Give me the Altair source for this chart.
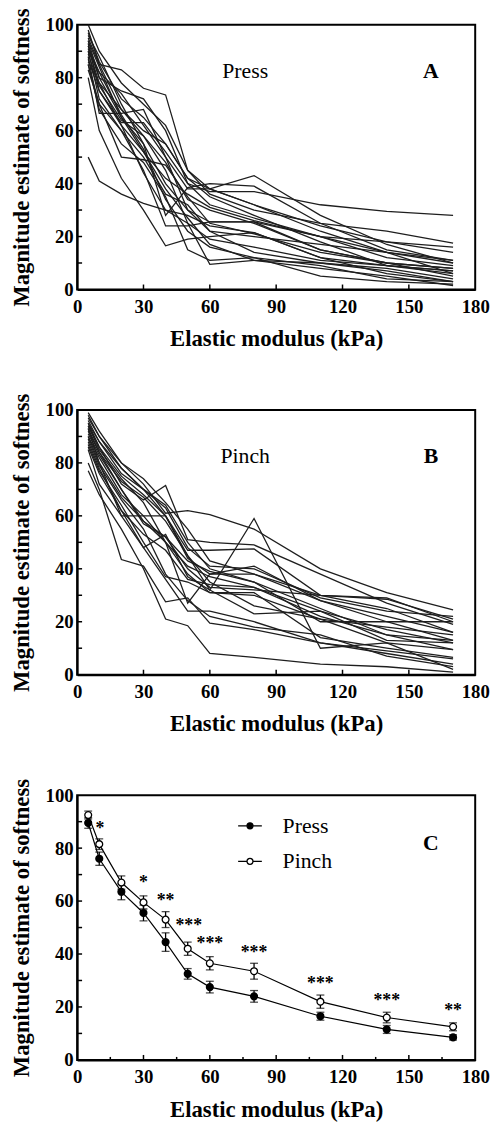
import altair as alt
import pandas as pd

# ---------------- data ----------------
moduli = [5, 10, 20, 30, 40, 50, 60, 80, 110, 140, 170]

press_subjects = [
    [95, 85, 83, 76, 73.5, 45, 38, 32, 22, 14, 10],
    [50, 41, 36, 32.5, 30, 28, 24, 21.5, 12, 9, 7],
    [100, 90, 78, 70, 62, 45, 36, 30, 25, 22, 17.5],
    [92, 80, 75, 72, 60, 40, 37, 37, 32, 29.5, 28],
    [90, 82, 74, 62, 50, 38, 38, 43, 28, 17, 10],
    [88, 66.5, 66.5, 68, 50, 30, 25.5, 25.5, 20, 12, 9],
    [85, 70, 50, 49, 47, 35, 25, 21, 14, 10, 8],
    [80, 60, 42, 30, 16.5, 19, 20, 21.5, 12, 6, 3],
    [96, 88, 70, 55, 28, 38.5, 40, 39, 25, 15, 11],
    [93, 75, 63, 63, 52, 40, 32, 27, 20, 14, 6],
    [90, 72, 60, 45, 24, 24, 25.5, 25.5, 15, 10, 5],
    [98, 85, 68, 58, 45, 25, 9.5, 11, 10, 8, 4],
    [85, 68, 55, 48, 35, 15, 11, 12, 5, 3, 2],
    [94, 80, 65, 55, 40, 30, 22, 14, 10, 7, 3],
    [87, 75, 62, 52, 38, 27, 17, 11, 8, 5, 1.5],
    [91, 78, 68, 60, 55, 42, 35, 28, 18, 9, 6],
    [89, 77, 64, 58, 48, 34, 30, 25, 15, 10, 8],
    [97, 86, 72, 65, 55, 42, 38, 32, 24, 18, 14],
    [83, 70, 60, 50, 36, 32, 22, 20, 17, 14, 11],
    [92, 82, 66, 53, 34, 22, 16, 12, 9, 4, 3],
    [86, 78, 62, 44, 30, 25, 19, 16, 11, 9, 7],
    [94, 84, 65, 52, 42, 36, 31, 26, 20, 18, 16],
]

pinch_subjects = [
    [98, 90, 80, 72, 61, 62, 60.5, 55, 40, 31, 24.5],
    [95, 88, 78, 70, 60, 45, 32, 59, 10, 12, 9.5],
    [77, 68, 55, 40, 21, 18.5, 8, 6.5, 4, 3, 1],
    [80, 70, 43.5, 41, 27.5, 29, 19.5, 17, 12, 8, 4],
    [90, 80, 60, 60, 60, 47, 47, 47.5, 30, 28.5, 21],
    [95, 86, 72, 66, 71.5, 51, 50, 49, 38, 27, 19],
    [93, 84, 70, 57, 52, 40, 33, 32, 30, 29, 20],
    [88, 78, 62, 48, 53, 37, 32, 23, 24, 13, 12],
    [94, 85, 74, 65, 50, 27, 38, 41, 28, 22, 16],
    [91, 83, 70, 58, 52, 43, 39, 35, 20, 20, 20],
    [97, 90, 78, 70, 64, 50, 40, 35, 25, 15, 13],
    [85, 72, 60, 48, 36, 24, 24, 20, 12, 9, 6],
    [89, 79, 66, 55, 38, 28, 22, 18, 15, 7, 3],
    [92, 84, 73, 67, 58, 45, 35, 26, 21, 18, 15],
    [96, 88, 76, 70, 63, 48, 41, 40, 29, 24, 22],
    [86, 76, 62, 53, 47, 36, 34, 33, 24, 17, 12],
    [90, 82, 68, 60, 50, 38, 31, 30, 21, 12, 2],
    [94, 86, 75, 68, 60, 44, 38, 38, 28, 20, 13],
    [99, 92, 80, 74, 65, 55, 43, 38, 30, 25, 16],
    [87, 77, 64, 50, 37, 35, 31, 31, 14, 10, 6.5],
    [93, 80, 67, 58, 50, 41, 37, 33, 22, 15, 9.5],
]

press_mean = [89.5, 76, 63.5, 55.5, 44.5, 32.5, 27.5, 24, 16.5, 11.5, 8.5]
press_sem = [2, 2.5, 3, 3, 3.5, 2, 2.2, 2.2, 1.5, 1.5, 1]
pinch_mean = [92.5, 81.5, 67, 59.5, 53, 42, 36.5, 33.5, 22, 16, 12.5]
pinch_sem = [1.5, 2, 2.5, 2.5, 3, 2.5, 2.5, 3, 2.5, 2, 1.5]

star_x = [10.3, 30, 40, 50.5, 60, 80, 110, 140, 170]
star_y = [88.5, 68, 61.2, 51.7, 44.7, 41.4, 29.9, 23.2, 19.7]
star_text = ["*", "*", "**", "***", "***", "***", "***", "***", "**"]

x_major = [0, 30, 60, 90, 120, 150, 180]
x_minor = [15, 45, 75, 105, 135, 165]
y_ticks = [0, 10, 20, 30, 40, 50, 60, 70, 80, 90, 100]
y_labels = [0, 20, 40, 60, 80, 100]

panel_names = ["Press", "Pinch"]
panel_letters = ["A", "B", "C"]

# ---------------- style ----------------
W, H = 403, 268
SERIF = "Liberation Serif"
XT = "Elastic modulus (kPa)"
YT = "Magnitude estimate of softness"

xscale = alt.Scale(domain=[0, 180], nice=False)
yscale = alt.Scale(domain=[0, 100], nice=False)
xaxis = alt.Axis(values=x_major, title=XT)
yaxis = alt.Axis(values=y_labels, title=YT)


def X(field="x"):
    return alt.X(f"{field}:Q", scale=xscale, axis=xaxis)


def Y(field="y"):
    return alt.Y(f"{field}:Q", scale=yscale, axis=yaxis)


def tick_layers(minor=False):
    xt = pd.DataFrame({"x": x_major[1:-1]})
    yt = pd.DataFrame({"y": y_ticks[1:-1]})
    layers = [
        alt.Chart(xt).mark_rule(color="black", strokeWidth=1.5).encode(
            x=X(), y=alt.value(H), y2=alt.value(H - 5)),
        alt.Chart(yt).mark_rule(color="black", strokeWidth=1.5).encode(
            y=Y(), x=alt.value(0), x2=alt.value(5)),
    ]
    if minor:
        xm = pd.DataFrame({"x": x_minor})
        layers.append(alt.Chart(xm).mark_rule(color="black", strokeWidth=1.5).encode(
            x=X(), y=alt.value(H), y2=alt.value(H - 3)))
    return layers


def annotations(name, letter, ax, ay, lx, ly):
    layers = []
    if name:
        layers.append(alt.Chart(pd.DataFrame({"x": [ax], "y": [ay], "t": [name]})).mark_text(
            font=SERIF, fontSize=22, color="black", baseline="middle", align="center").encode(
            x=X(), y=Y(), text="t:N"))
    layers.append(alt.Chart(pd.DataFrame({"x": [lx], "y": [ly], "t": [letter]})).mark_text(
        font=SERIF, fontSize=22, fontWeight="bold", color="black", baseline="middle",
        align="center").encode(x=X(), y=Y(), text="t:N"))
    return layers


def subject_df(subjects):
    rows = []
    for i, s in enumerate(subjects):
        for xv, yv in zip(moduli, s):
            rows.append({"x": xv, "y": yv, "s": i})
    return pd.DataFrame(rows)


def subject_panel(subjects, name, letter):
    lines = alt.Chart(subject_df(subjects)).mark_line(
        color="#1e1e1e", strokeWidth=1.3).encode(x=X(), y=Y(), detail="s:N")
    return alt.layer(lines, *tick_layers(), *annotations(name, letter, 76, 82.5, 160, 82.5)
                     ).properties(width=W, height=H)


panelA = subject_panel(press_subjects, panel_names[0], panel_letters[0])
panelB = subject_panel(pinch_subjects, panel_names[1], panel_letters[1])

# panel C
rows = []
for name, m, e in [("Press", press_mean, press_sem), ("Pinch", pinch_mean, pinch_sem)]:
    for xv, mv, ev in zip(moduli, m, e):
        rows.append({"x": xv, "y": mv, "lo": mv - ev, "hi": mv + ev, "series": name})
cdf = pd.DataFrame(rows)

legend_symbol = "M-4,0L-1,0M1,0L4,0M-1,0A1,1 0 1,1 1,0A1,1 0 1,1 -1,0Z"

c_lines = alt.Chart(cdf).mark_line(color="black", strokeWidth=1.2).encode(
    x=X(), y=Y(), detail="series:N")
c_err = alt.Chart(cdf).mark_errorbar(
    ticks={"size": 8, "thickness": 1.3}, rule={"strokeWidth": 1.3}, color="black").encode(
    x=X(), y=alt.Y("lo:Q", scale=yscale, axis=yaxis, title=YT), y2="hi:Q")
c_pts = alt.Chart(cdf).mark_point(
    filled=True, shape="circle", size=48, stroke="black", strokeWidth=1.3, opacity=1).encode(
    x=X(), y=Y(),
    fill=alt.Fill("series:N",
                  scale=alt.Scale(domain=panel_names, range=["black", "white"]),
                  legend=alt.Legend(title=None, orient="none", legendX=164, legendY=20,
                                    symbolType=legend_symbol, symbolSize=36,
                                    symbolStrokeColor="black", symbolStrokeWidth=1.3,
                                    labelFont=SERIF, labelFontSize=22, labelOffset=22,
                                    rowPadding=14, padding=0)))
stars = alt.Chart(pd.DataFrame({"x": star_x, "y": star_y, "t": star_text})).mark_text(
    font=SERIF, fontSize=18, fontWeight="bold", color="black", baseline="middle",
    align="center", dy=3).encode(x=X(), y=Y(), text="t:N")

panelC = alt.layer(c_lines, c_err, c_pts, stars, *tick_layers(minor=True),
                   *annotations(None, panel_letters[2], 0, 0, 160, 82)
                   ).properties(width=W, height=H)

chart = alt.vconcat(
    panelA, panelB, panelC, spacing=40,
    padding={"top": -9, "left": 1, "right": 0, "bottom": 0}
).resolve_legend(
    fill="independent"
).configure_view(
    stroke="black", strokeWidth=2
).configure_axis(
    grid=False, ticks=False, tickSize=0, domainColor="black", domainWidth=2,
    labelFont=SERIF, labelFontSize=19, labelFontWeight="bold", labelColor="black",
    labelPadding=4, titleFont=SERIF, titleFontSize=23, titleFontWeight="bold",
    titleColor="black", labelFlush=False
).configure_axisX(labelPadding=8, titlePadding=12
).configure_axisY(titlePadding=12)

chart.save("out.html", embed_options={"renderer": "svg", "actions": False})
